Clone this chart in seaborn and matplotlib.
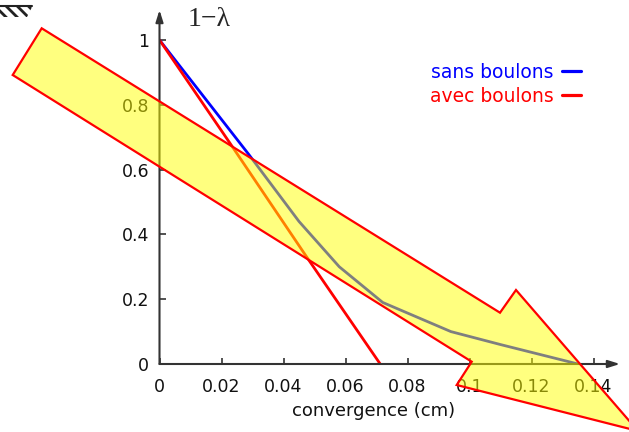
import pandas as pd
import matplotlib
matplotlib.use("Agg")
import matplotlib.pyplot as plt
from matplotlib.patches import Polygon
from matplotlib.lines import Line2D
import seaborn as sns

# courbes
conv_sans = [0.0, 0.0287, 0.045, 0.058, 0.072, 0.094, 0.110, 0.135]
lam_sans = [1.0, 0.648, 0.44, 0.30, 0.19, 0.10, 0.06, 0.0]
conv_avec = [0.0, 0.0227, 0.0475, 0.0712]
lam_avec = [1.0, 0.682, 0.330, 0.0]
series = ["sans boulons", "avec boulons"]
couleurs = ["#0000ff", "#ff0000"]

xticks = [0, 0.02, 0.04, 0.06, 0.08, 0.1, 0.12, 0.14]
xticklabels = ["0", "0.02", "0.04", "0.06", "0.08", "0.1", "0.12", "0.14"]
yticks = [0, 0.2, 0.4, 0.6, 0.8, 1]
yticklabels = ["0", "0.2", "0.4", "0.6", "0.8", "1"]

df = pd.concat([
    pd.DataFrame({"conv": conv_sans, "lam": lam_sans, "cas": series[0]}),
    pd.DataFrame({"conv": conv_avec, "lam": lam_avec, "cas": series[1]}),
], ignore_index=True)

sns.set_style("white")
plt.rcParams["font.family"] = ["DejaVu Sans"]
plt.rcParams["hatch.linewidth"] = 2.0

W, H = 629, 432
fig = plt.figure(figsize=(W / 100, H / 100), dpi=100)
ax = fig.add_axes([159.5 / W, 68 / H, 460.5 / W, 354 / H])
ax.patch.set_alpha(0)

sns.lineplot(data=df, x="conv", y="lam", hue="cas", hue_order=series,
             palette=couleurs, estimator=None, sort=False, lw=2.0, ax=ax,
             legend=False)

ax.set_xlim(0, 460.5 / 3100)
ax.set_ylim(0, 354 / 324)
for s in ax.spines.values():
    s.set_visible(False)

axe_col = "#333333"
fl = dict(arrowstyle="-|>,head_length=0.7,head_width=0.22", color=axe_col,
          lw=1.5, shrinkA=0, shrinkB=0)
ax.annotate("", xy=(1, 0), xytext=(0, 0), xycoords="axes fraction", arrowprops=fl)
ax.annotate("", xy=(0, 1), xytext=(0, 0), xycoords="axes fraction", arrowprops=fl)

ax.set_xticks(xticks)
ax.set_xticklabels(xticklabels)
ax.set_yticks(yticks)
ax.set_yticklabels(yticklabels)
ax.tick_params(axis="both", direction="in", length=4, width=1.2, color=axe_col,
               labelsize=12.5, labelcolor="#111111")
ax.tick_params(axis="x", bottom=True, pad=10)
ax.tick_params(axis="y", left=True, pad=7.5)

ax.set_xlabel("convergence (cm)", fontsize=13, color="#111111")
ax.xaxis.label.set_va("center")
ax.xaxis.set_label_coords((373.5 - 159.5) / 460.5, (364 - 411.5) / 354)
ax.set_ylabel("1\u2212\u03bb", fontsize=20, family="Liberation Serif",
              rotation=0, va="center", ha="center")
ax.yaxis.set_label_coords((209 - 159.5) / 460.5, (364 - 20) / 354)

handles = [Line2D([], [], color=c, lw=2.3) for c in couleurs]
ax.legend(handles, series, markerfirst=False, frameon=False,
          labelcolor="linecolor", fontsize=13.5, handlelength=1.0,
          handletextpad=0.45, labelspacing=0.25, borderpad=0,
          borderaxespad=0, loc="upper right",
          bbox_to_anchor=(581 / W, 1 - 63 / H), bbox_transform=fig.transFigure)


def px(x, y):
    return (x / W, 1 - y / H)


# grosse flèche jaune par-dessus
fleche = [(41.7, 28.3), (500, 312.7), (516, 290), (638, 431),
          (456.7, 385), (471.7, 361.7), (12.7, 75)]
fig.add_artist(Polygon([px(*p) for p in fleche], closed=True,
                       transform=fig.transFigure, facecolor=(1, 1, 0, 0.5),
                       edgecolor="#ff0000", lw=1.6, zorder=5))

# bout de hachures en haut à gauche
fig.add_artist(Polygon([px(0, 7), px(32, 7), px(27, 17), px(0, 17)],
                       transform=fig.transFigure, facecolor="none",
                       edgecolor="#222222", hatch="\\\\\\", lw=0, zorder=4))
fig.add_artist(Line2D([0, 32 / W], [1 - 6 / H, 1 - 6 / H], color="#222222",
                      lw=1.5, transform=fig.transFigure))

fig.savefig("out.png", dpi=100)
